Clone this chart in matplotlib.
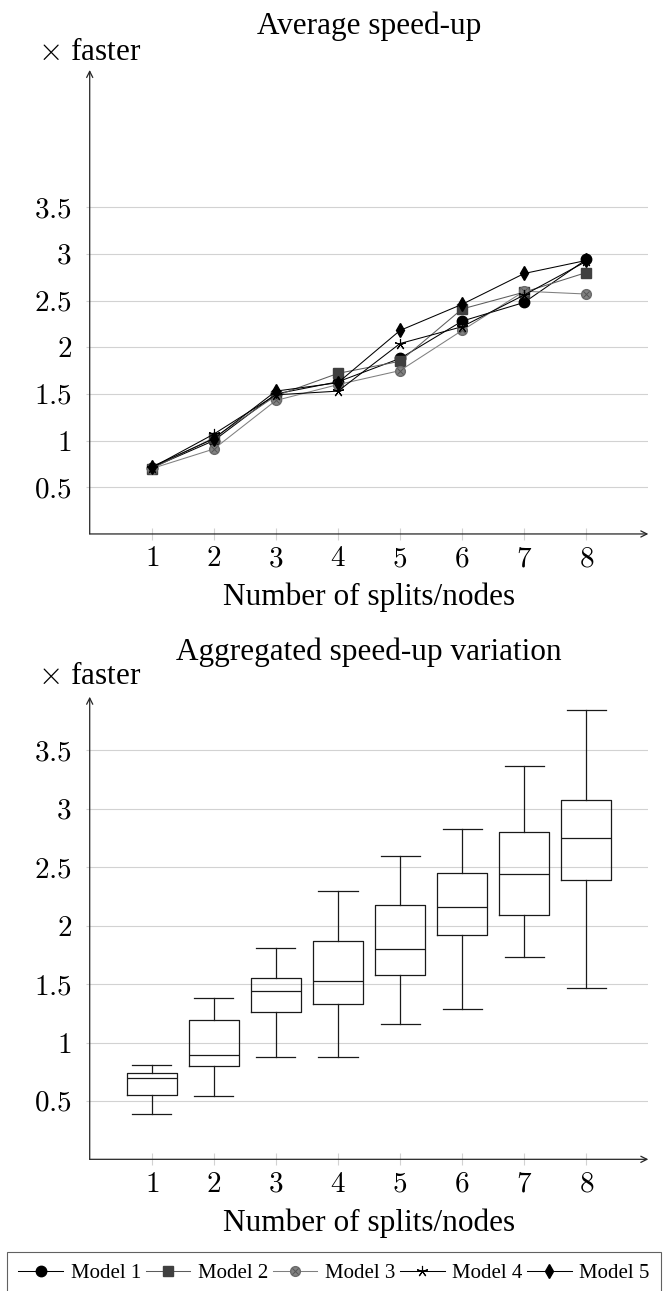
from __future__ import annotations

import matplotlib

matplotlib.use("Agg")
import matplotlib.pyplot as plt
from matplotlib.legend_handler import HandlerTuple

OUT_PATH = "out.png"

SPLITS = [1, 2, 3, 4, 5, 6, 7, 8]
MODEL_NAMES = ["Model 1", "Model 2", "Model 3", "Model 4", "Model 5"]

# average speed-up per model
MODEL_1 = [0.71, 1.00, 1.50, 1.63, 1.88, 2.28, 2.48, 2.94]
MODEL_2 = [0.70, 1.03, 1.48, 1.72, 1.85, 2.41, 2.59, 2.80]
MODEL_3 = [0.70, 0.91, 1.43, 1.60, 1.75, 2.18, 2.60, 2.57]
MODEL_4 = [0.71, 1.07, 1.49, 1.53, 2.04, 2.22, 2.56, 2.92]
MODEL_5 = [0.72, 1.02, 1.53, 1.62, 2.18, 2.46, 2.79, 2.93]

# box plot summary per number of splits
WHISKER_LOW = [0.39, 0.54, 0.88, 0.88, 1.16, 1.29, 1.73, 1.47]
Q1 = [0.55, 0.80, 1.26, 1.33, 1.58, 1.92, 2.09, 2.39]
MEDIAN = [0.70, 0.89, 1.44, 1.53, 1.80, 2.16, 2.44, 2.75]
Q3 = [0.74, 1.19, 1.55, 1.87, 2.18, 2.45, 2.80, 3.08]
WHISKER_HIGH = [0.81, 1.38, 1.81, 2.30, 2.60, 2.83, 3.37, 3.85]

Y_TICKS = [0.5, 1.0, 1.5, 2.0, 2.5, 3.0, 3.5]
GRID_COLOR = "#d2d2d2"
AXIS_COLOR = "#262626"
TEXT_SIZE = 22.5

plt.rcParams["font.family"] = ["Liberation Serif", "DejaVu Serif"]
plt.rcParams["mathtext.fontset"] = "cm"


def _style_axis(ax, ymax: float) -> None:
    ax.set_xlim(0, 9)
    ax.set_ylim(0, ymax)
    for spine in ax.spines.values():
        spine.set_visible(False)
    ax.set_xticks(SPLITS)
    ax.set_xticklabels([f"${v}$" for v in SPLITS])
    ax.set_yticks(Y_TICKS)
    ax.set_yticklabels([f"${v:g}$" for v in Y_TICKS])
    ax.tick_params(axis="x", direction="inout", length=8, width=0.8, color=GRID_COLOR,
                   labelsize=21, pad=5)
    ax.tick_params(axis="y", direction="out", length=3, width=0.8, color=GRID_COLOR,
                   labelsize=21, pad=10)
    ax.grid(axis="y", color=GRID_COLOR, linewidth=0.8)
    ax.set_axisbelow(True)
    arrow = dict(arrowstyle="->", lw=0.9, color=AXIS_COLOR, shrinkA=0, shrinkB=0,
                 mutation_scale=11)
    ax.annotate("", xy=(1, 0), xytext=(0, 0), xycoords="axes fraction",
                textcoords="axes fraction", arrowprops=arrow)
    ax.annotate("", xy=(0, 1), xytext=(0, 0), xycoords="axes fraction",
                textcoords="axes fraction", arrowprops=arrow)
    ax.set_xlabel("Number of splits/nodes", fontsize=TEXT_SIZE, va="baseline")


def main() -> int:
    fig = plt.figure(figsize=(6.64, 12.91), dpi=100)
    top = fig.add_axes([0.1351, 0.5864, 0.8413, 0.3594])
    bottom = fig.add_axes([0.1351, 0.1020, 0.8413, 0.3583])

    # --- average speed-up
    line_kw = dict(linewidth=0.75)
    h1, = top.plot(SPLITS, MODEL_1, color="black", marker="o", markersize=7.5, **line_kw)
    h2, = top.plot(SPLITS, MODEL_2, color="#5c5c5c", marker="s", markersize=6.5,
                   markerfacecolor="#404040", markeredgecolor="#404040", **line_kw)
    h3, = top.plot(SPLITS, MODEL_3, color="#7f7f7f", marker="o", markersize=7,
                   markerfacecolor="#828282", markeredgecolor="#6a6a6a", **line_kw)
    h3x, = top.plot(SPLITS, MODEL_3, linestyle="none", marker="x", markersize=4.5,
                    markeredgecolor="#555555", markeredgewidth=0.7)
    h4, = top.plot(SPLITS, MODEL_4, color="black", marker=(5, 2, 0), markersize=8,
                   markeredgewidth=0.8, **line_kw)
    h5, = top.plot(SPLITS, MODEL_5, color="black", marker="d", markersize=7, **line_kw)
    _style_axis(top, 4.97)
    top.set_title("Average speed-up", fontsize=TEXT_SIZE, y=1.0776, pad=0)
    top.text(0, 1.0216, r"$\times$ faster", transform=top.transAxes, fontsize=TEXT_SIZE,
             ha="center", va="baseline")
    top.xaxis.set_label_coords(0.5, -0.153)

    # --- aggregated variation
    stats = [
        dict(whislo=lo, q1=a, med=m, q3=b, whishi=hi, fliers=[])
        for lo, a, m, b, hi in zip(WHISKER_LOW, Q1, MEDIAN, Q3, WHISKER_HIGH)
    ]
    box_line = dict(color="#1a1a1a", linewidth=0.9)
    bottom.bxp(stats, positions=SPLITS, widths=0.8, capwidths=0.63, showfliers=False,
               boxprops=box_line, whiskerprops=box_line, capprops=box_line,
               medianprops=box_line, manage_ticks=False)
    _style_axis(bottom, 3.96)
    bottom.set_title("Aggregated speed-up variation", fontsize=TEXT_SIZE, y=1.0793, pad=0)
    bottom.text(0, 1.0275, r"$\times$ faster", transform=bottom.transAxes,
                fontsize=TEXT_SIZE, ha="center", va="baseline")
    bottom.xaxis.set_label_coords(0.5, -0.156)

    legend = fig.legend(
        [h1, h2, (h3, h3x), h4, h5],
        MODEL_NAMES,
        handler_map={tuple: HandlerTuple(ndivide=1)},
        loc="upper left",
        bbox_to_anchor=(0.0105, 1 - 1252 / 1291, 0.985, 0),
        mode="expand",
        ncol=5,
        fontsize=15,
        handlelength=2.15,
        handletextpad=0.35,
        columnspacing=0.3,
        borderpad=0.55,
        borderaxespad=0,
        fancybox=False,
        frameon=True,
    )
    legend.get_frame().set_edgecolor("#3a3a3a")
    legend.get_frame().set_linewidth(0.8)

    fig.savefig(OUT_PATH, dpi=100)
    plt.close(fig)
    return 0


if __name__ == "__main__":
    raise SystemExit(main())
